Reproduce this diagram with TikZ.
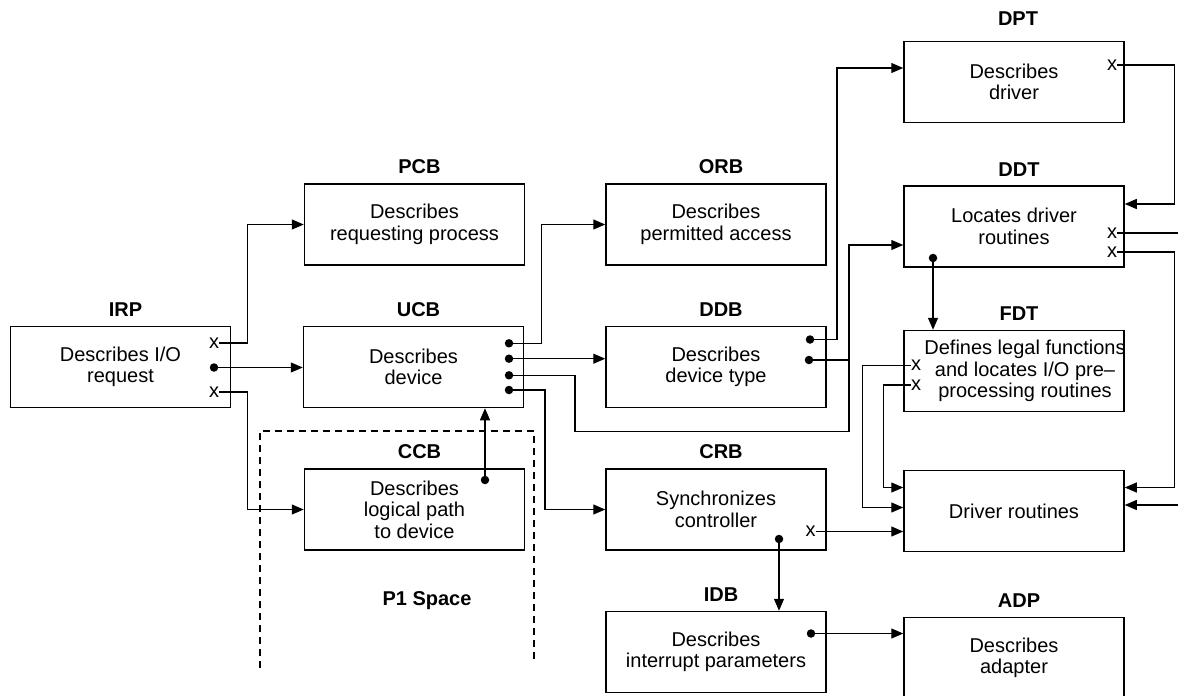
\documentclass[tikz,border=0pt]{standalone}
\usepackage{fontspec}
\setmainfont{Liberation Sans}
\usetikzlibrary{arrows.meta, calc}

\begin{document}
\begin{tikzpicture}[x=1pt, y=-1pt,
  txt/.style={font=\fontsize{20}{21.5}\selectfont},
  block/.style={txt, draw, line width=1.5pt, minimum width=220pt, minimum height=81pt, inner sep=0pt, align=center},
  ttl/.style={label={[font=\fontsize{20}{21.5}\selectfont\bfseries, inner sep=2pt, label distance=7pt, xshift=5pt]above:#1}},
  conn/.style={line width=1.2pt},
  arr/.style={conn, -{Triangle[length=12pt, width=10pt]}},
  dot/.style={circle, fill, inner sep=0pt, minimum size=8.5pt},
  xmark/.style={txt, inner sep=0pt}]
\useasboundingbox (0,0) rectangle (1178,696);

\node[block, ttl=IRP] (irp) at (120.5,367) {Describes I/O\\request};
\node[block, ttl=PCB] (pcb) at (414.5,224.5) {Describes\\requesting process};
\node[block, ttl=UCB] (ucb) at (413.5,367) {Describes\\device};
\node[block, ttl=CCB] (ccb) at (414.5,509.5) {Describes\\logical path\\to device};
\node[block, ttl=ORB] (orb) at (716,224.5) {Describes\\permitted access};
\node[block, ttl=DDB] (ddb) at (716,367) {Describes\\device type};
\node[block, ttl=CRB] (crb) at (716,509.5) {Synchronizes\\controller};
\node[block, ttl=IDB] (idb) at (716,652) {Describes\\interrupt parameters};
\node[block, label={[font=\fontsize{20}{21.5}\selectfont\bfseries, inner sep=2pt, label distance=13pt, xshift=4pt]above:DPT}] (dpt) at (1014,82) {Describes\\driver};
\node[block, ttl=DDT] (ddt) at (1014,226.5) {Locates driver\\routines};
\node[block, ttl=FDT] (fdt) at (1014,371) {};
\node[txt, align=center, inner sep=0pt] (fdttxt) at ([xshift=11pt]fdt.center) {Defines legal functions\\and locates I/O pre--\\processing routines};
\node[block] (drv) at (1014,511) {Driver routines};
\node[block, ttl=ADP] (adp) at (1014,658) {Describes\\adapter};

\node[xmark] (irpx1) at (214,343) {x};
\node[dot] (irpdot) at (214,367.5) {};
\node[xmark] (irpx2) at (214,392) {x};
\node[dot] (ucbd1) at (509,343.3) {};
\node[dot] (ucbd2) at (509,358.7) {};
\node[dot] (ucbd3) at (509,375.3) {};
\node[dot] (ucbd4) at (509,390) {};
\node[dot] (ccbdot) at (485,480) {};
\node[dot] (ddbd1) at (810,339.5) {};
\node[dot] (ddbd2) at (809,360) {};
\node[xmark] (dptx) at (1112,65) {x};
\node[xmark] (ddtx1) at (1112,233) {x};
\node[xmark] (ddtx2) at (1112,252) {x};
\node[dot] (ddtdot) at (933,258) {};
\node[xmark] (fdtx1) at (916,365.5) {x};
\node[xmark] (fdtx2) at (916,385) {x};
\node[xmark] (crbx) at (810.5,531.5) {x};
\node[dot] (crbdot) at (779,539) {};
\node[dot] (idbdot) at (811,633.5) {};
\coordinate (out1) at (1180,233);
\coordinate (in1) at (1180,505);

\draw[arr] (irpx1.east) -- ++(28,0) |- (pcb.west);
\draw[arr] (irpdot) -- (irpdot -| ucb.west);
\draw[arr] (irpx2.east) -- ++(28,0) |- (ccb.west);
\draw[arr] (ucbd1) -- ++(32.5,0) |- (orb.west);
\draw[arr] (ucbd2) -- (ucbd2 -| ddb.west);
\draw[arr] (ucbd4) -- ++(36,0) |- (crb.west);
\draw[arr] (ccbdot) -- (ccbdot |- ucb.south);
\draw[arr] (ddbd1) -- ++(27,0) |- ([yshift=14pt]dpt.west);
\draw[arr] (ddbd2) -- ++(40,0) coordinate (jn) |- ([yshift=-18.5pt]ddt.west);
\draw[conn] (ucbd3) -- ++(66,0) -- ++(0,56) -| (jn);
\draw[arr] (dptx.east) -- ++(57,0) |- ([yshift=22.5pt]ddt.east);
\draw[conn] (ddtx1.east) -- (ddtx1.east -| out1);
\draw[arr] (ddtx2.east) -- ++(57,0) |- ([yshift=23.5pt]drv.east);
\draw[arr] (in1) -- (in1 -| drv.east);
\draw[arr] (ddtdot) -- (ddtdot |- fdt.north);
\draw[arr] (fdtx1.west) -- ++(-48,0) |- ([yshift=3.5pt]drv.west);
\draw[arr] (fdtx2.west) -- ++(-27,0) |- ([yshift=23.5pt]drv.west);
\draw[arr] (crbx.east) -- (crbx.east -| drv.west);
\draw[arr] (crbdot) -- (crbdot |- idb.north);
\draw[arr] (idbdot) -- (idbdot -| adp.west);

\draw[conn, dash pattern=on 7pt off 5pt] (260,668) -- (260,431) -- (534,431) -- (534,662);
\node[txt, font=\fontsize{20}{21.5}\selectfont\bfseries] (p1) at (427,601) {P1 Space};
\end{tikzpicture}
\end{document}
